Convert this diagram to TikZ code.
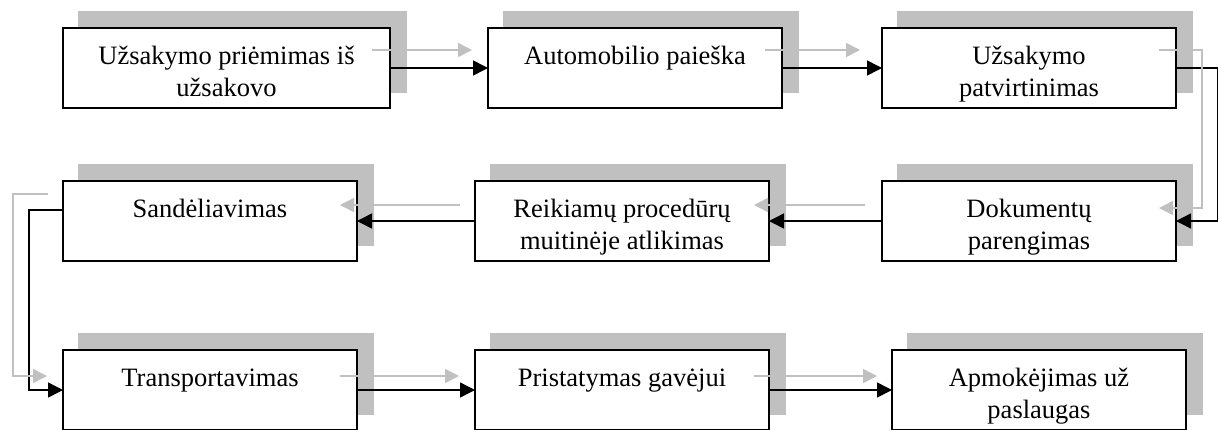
\documentclass[tikz,border=0pt]{standalone}
\usepackage{fontspec}
\setmainfont{Liberation Serif}
\usetikzlibrary{arrows.meta,calc,backgrounds}
\definecolor{shadowgray}{HTML}{C0C0C0}

\begin{document}
\begin{tikzpicture}[x=1pt,y=-1pt,
  stepbox/.style={draw=black,line width=1.5pt,fill=white,minimum height=80pt,
    minimum width=294pt,anchor=north west,inner sep=0pt,outer sep=0pt},
  boxlabel/.style={anchor=base,inner sep=0pt,font=\fontsize{26.5}{32}\selectfont},
  flow/.style={draw=black,line width=1.5pt,-{Triangle[length=15pt,width=15pt]}},
  ghost/.style={draw=shadowgray,line width=1.5pt,-{Triangle[length=14pt,width=14pt]}},
  boxshadow/.style={fill=shadowgray},
]
\useasboundingbox (0,0) rectangle (1218,429);

% process steps
\node[stepbox,minimum width=327pt] (b1) at (63,28) {};
\node[stepbox] (b2) at (488,28) {};
\node[stepbox] (b3) at (882,28) {};
\node[stepbox] (dok) at (882,181) {};
\node[stepbox] (reik) at (475,181) {};
\node[stepbox] (sand) at (63,181) {};
\node[stepbox] (trans) at (63,350) {};
\node[stepbox] (prist) at (475,350) {};
\node[stepbox] (apm) at (892,350) {};

% step captions, first line near the top of each box
\node[boxlabel] (tb1) at ($(b1.north)+(0,36)$) {\begin{tabular}[t]{@{}c@{}}Užsakymo priėmimas iš\\užsakovo\end{tabular}};
\node[boxlabel] (tb2) at ($(b2.north)+(0,36)$) {Automobilio paieška};
\node[boxlabel] (tb3) at ($(b3.north)+(0,36)$) {\begin{tabular}[t]{@{}c@{}}Užsakymo\\patvirtinimas\end{tabular}};
\node[boxlabel] (tdok) at ($(dok.north)+(0,36)$) {\begin{tabular}[t]{@{}c@{}}Dokumentų\\parengimas\end{tabular}};
\node[boxlabel] (treik) at ($(reik.north)+(0,36)$) {\begin{tabular}[t]{@{}c@{}}Reikiamų procedūrų\\muitinėje atlikimas\end{tabular}};
\node[boxlabel] (tsand) at ($(sand.north)+(0,36)$) {Sandėliavimas};
\node[boxlabel] (ttrans) at ($(trans.north)+(0,36)$) {Transportavimas};
\node[boxlabel] (tprist) at ($(prist.north)+(0,36)$) {Pristatymas gavėjui};
\node[boxlabel] (tapm) at ($(apm.north)+(0,36)$) {\begin{tabular}[t]{@{}c@{}}Apmokėjimas už\\paslaugas\end{tabular}};

% drop shadows behind the boxes
\begin{scope}[on background layer]
  \fill[white] (0,0) rectangle (1218,429);
  \foreach \b in {b1,b2,b3,dok,reik,sand,trans,prist,apm}
    \path[boxshadow] ($(\b.north west)+(15,-17)$) rectangle ($(\b.south east)+(17,-15)$);
\end{scope}

% main flow
\draw[flow] (b1.east) -- (b2.west);
\draw[flow] (b2.east) -- (b3.west);
\draw[flow] (b3.east) -- ++(42,0) |- (dok.east);
\draw[flow] (dok.west) -- (reik.east);
\draw[flow] (reik.west) -- (sand.east);
\draw[flow] ($(sand.west)+(0,-11)$) -- ++(-34,0) |- (trans.west);
\draw[flow] (trans.east) -- (prist.west);
\draw[flow] (prist.east) -- (apm.west);

% shadowed copies of the flow arrows
\draw[ghost] ($(b1.east)+(-18,-18)$) -- ($(b2.west)+(-16,-18)$);
\draw[ghost] ($(b2.east)+(-17,-18)$) -- ($(b3.west)+(-22,-18)$);
\draw[ghost] ($(b3.east)+(-17,-18)$) -- ++(43,0) |- ($(dok.east)+(-17,-13)$);
\draw[ghost] ($(dok.west)+(-17,-16)$) -- ($(reik.east)+(-15,-16)$);
\draw[ghost] ($(reik.west)+(-15,-16)$) -- ($(sand.east)+(-17,-16)$);
\draw[ghost] ($(sand.west)+(-15,-27)$) -- ++(-35,0) |- ($(trans.west)+(-16,-14)$);
\draw[ghost] ($(trans.east)+(-17,-14)$) -- ($(prist.west)+(-16,-14)$);
\draw[ghost] ($(prist.east)+(-15,-14)$) -- ($(apm.west)+(-15,-14)$);
\end{tikzpicture}
\end{document}
